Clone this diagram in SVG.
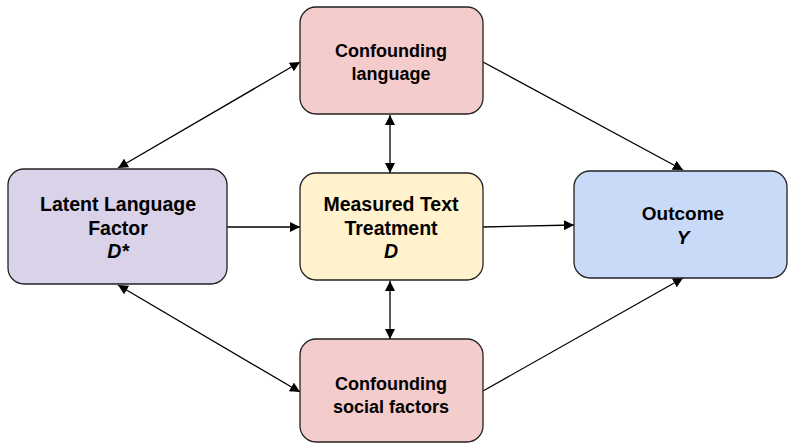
<svg xmlns="http://www.w3.org/2000/svg" width="788" height="445" viewBox="0 0 788 445">
  <defs>
    <marker id="ah" viewBox="0 0 10 10" refX="10" refY="5" markerWidth="10" markerHeight="10" markerUnits="userSpaceOnUse" orient="auto-start-reverse">
      <path d="M0,0 L10,5 L0,10 Z" fill="#000"/>
    </marker>
    <style>
      .box { stroke: #222; stroke-width: 1.3; }
      .lbl { font-family: "Liberation Sans", Arial, sans-serif; font-size: 18px; font-weight: bold; fill: #000; text-anchor: middle; }
      .big { font-size: 19.5px; }
      .mid { font-size: 19px; }
      .it { font-style: italic; }
      .edge { stroke: #000; stroke-width: 1.3; fill: none; marker-end: url(#ah); }
      .bi { marker-start: url(#ah); }
    </style>
  </defs>
  <rect width="788" height="445" fill="#fff"/>

  <g id="edges">
    <line class="edge bi" x1="118" y1="168" x2="300" y2="62"/>
    <line class="edge bi" x1="118" y1="285" x2="300" y2="392"/>
    <line class="edge" x1="227" y1="227" x2="300" y2="227"/>
    <line class="edge bi" x1="390" y1="115" x2="390" y2="173"/>
    <line class="edge bi" x1="390" y1="281" x2="390" y2="339"/>
    <line class="edge" x1="483" y1="227" x2="574" y2="225"/>
    <line class="edge" x1="483" y1="62" x2="683" y2="170"/>
    <line class="edge" x1="483" y1="391" x2="683" y2="278"/>
  </g>

  <g id="latent">
    <rect class="box" x="8" y="169" width="219" height="115" rx="16" fill="#d9d2e9"/>
    <text class="lbl big" x="118" y="211">Latent Language</text>
    <text class="lbl big" x="118" y="235">Factor</text>
    <text class="lbl big it" x="118" y="258">D*</text>
  </g>

  <g id="conf-language">
    <rect class="box" x="300" y="7" width="183" height="107" rx="16" fill="#f4cccc"/>
    <text class="lbl" x="391" y="57">Confounding</text>
    <text class="lbl" x="391" y="80">language</text>
  </g>

  <g id="treatment">
    <rect class="box" x="300" y="173" width="183" height="107" rx="16" fill="#fff2cc"/>
    <text class="lbl big" x="391" y="211">Measured Text</text>
    <text class="lbl big" x="391" y="235">Treatment</text>
    <text class="lbl big it" x="391" y="258">D</text>
  </g>

  <g id="outcome">
    <rect class="box" x="574" y="171" width="213" height="107" rx="16" fill="#c9daf8"/>
    <text class="lbl mid" x="683" y="220">Outcome</text>
    <text class="lbl mid it" x="683" y="244">Y</text>
  </g>

  <g id="conf-social">
    <rect class="box" x="300" y="339" width="183" height="103" rx="16" fill="#f4cccc"/>
    <text class="lbl" x="391" y="390">Confounding</text>
    <text class="lbl" x="391" y="413">social factors</text>
  </g>
</svg>
